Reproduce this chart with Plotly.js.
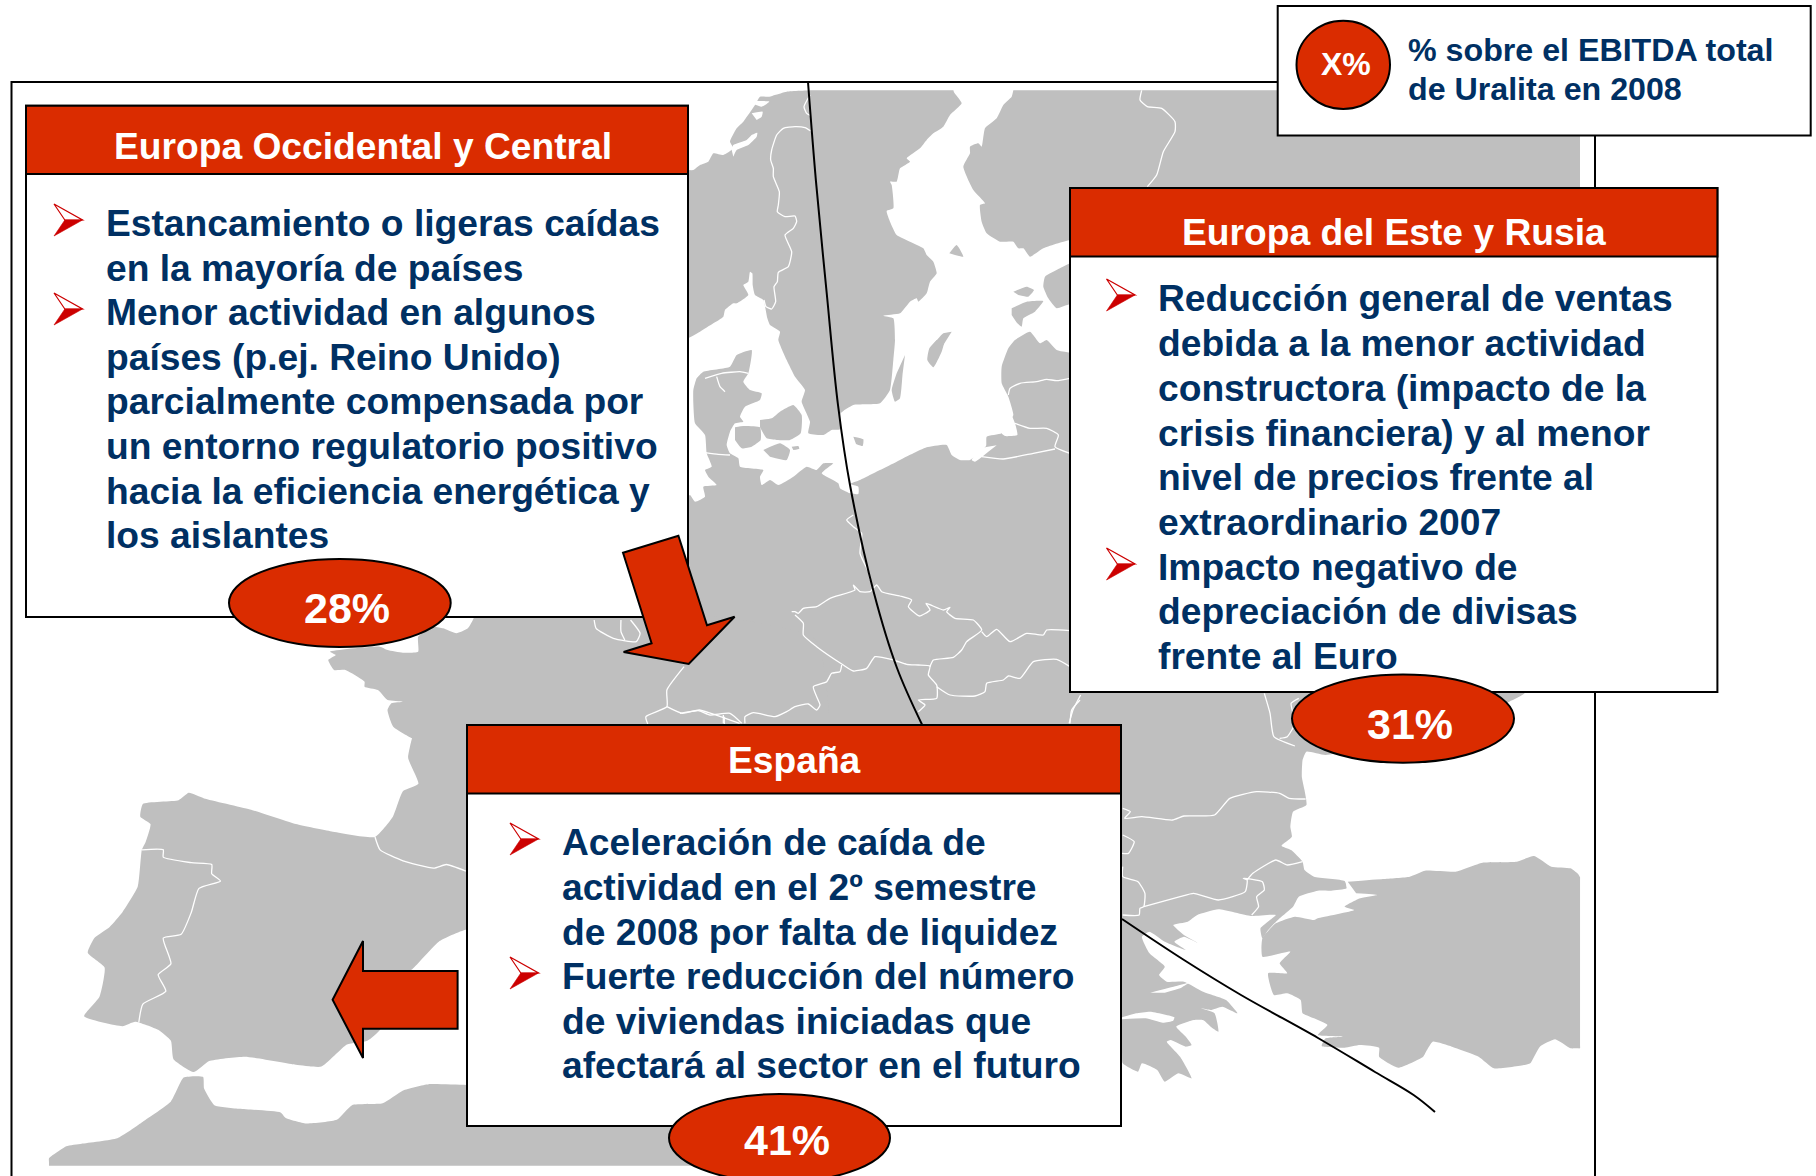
<!DOCTYPE html>
<html><head><meta charset="utf-8">
<script src="https://cdn.plot.ly/plotly-3.0.1.min.js"></script>
<style>html,body{margin:0;padding:0;background:#fff}#c{width:1816px;height:1176px}</style>
</head><body><div id="c"></div>
<script>
// ---------- text content ----------
const westTitle = "Europa Occidental y Central";
const westLines = ["Estancamiento o ligeras caídas","en la mayoría de países","Menor actividad en algunos","países (p.ej. Reino Unido)","parcialmente compensada por","un entorno regulatorio positivo","hacia la eficiencia energética y","los aislantes"];
const eastTitle = "Europa del Este y Rusia";
const eastLines = ["Reducción general de ventas","debida a la menor actividad","constructora (impacto de la","crisis financiera) y al menor","nivel de precios frente al","extraordinario 2007","Impacto negativo de","depreciación de divisas","frente al Euro"];
const spainTitle = "España";
const spainLines = ["Aceleración de caída de","actividad en el 2º semestre","de 2008 por falta de liquidez","Fuerte reducción del número","de viviendas iniciadas que","afectará al sector en el futuro"];
const shares = ["28%","31%","41%"];
const legendLines = ["% sobre el EBITDA total","de Uralita en 2008"];

// ---------- traced map outlines (each in the scale of the crop it was read from) ----------
const c7  = [680,85,3,3], c8=[680,340,3,3], c9=[680,570,3,3], c10=[1060,85,3,3];
const c3  = [1050,680,2.613,3], c2=[0,600,1.96,2.722], c6=[200,500,2.613,3];
const scaleTo = (c,p)=>p.map(([x,y])=>[c[0]+x/c[2], c[1]+y/c[3]]);

const scandiA = [[24,760],[60,740],[100,715],[130,695],[135,675],[160,655],[170,655],[205,630],[190,600],[205,590],[210,560],[217,565],[218,600],[225,630],[250,645],[262,700],[270,720],[300,740]];
const scandiB = [[295,0],[320,60],[345,110],[375,150],[365,185],[390,245],[385,280],[430,285],[455,270],[480,268],[482,220],[520,195],[600,190],[630,150],[640,60],[645,0]];
const scandiC = [[640,700],[610,692],[660,685],[690,650],[710,640],[715,650],[740,625],[750,590],[770,565],[760,530],[740,510],[730,490],[690,470],[650,450],[630,410],[620,378],[640,370],[635,300],[630,290],[650,290],[660,250],[690,230],[680,220],[720,190],[740,165],[760,145],[790,125],[810,90],[845,55],[822,22],[820,16],[812,16],[410,16],[400,16],[320,20],[285,30],[268,35],[240,35],[225,60],[190,110],[170,130],[150,170],[160,190],[130,210],[100,205],[85,230],[60,240],[40,255],[24,255]];
const finland = [[1000,16],[995,35],[970,60],[950,100],[915,130],[905,185],[895,175],[870,185],[870,205],[850,245],[880,315],[915,355],[900,360],[905,410],[920,445],[960,470],[1000,470],[1015,490],[1030,490],[1050,515],[1090,490],[1170,465],[1300,465],[1300,800],[2690,800],[2700,795],[2700,785],[2700,26],[2700,20],[2695,16],[2685,16],[1010,16]];
const estonia = [[1170,535],[1140,550],[1095,575],[1090,605],[1105,640],[1130,670],[1170,658],[1300,700],[1300,535]];
const continent = [[1170,38],[1130,30],[1100,0],[1080,10],[1050,-25],[1005,0],[985,25],[965,80],[965,130],[985,170],[1000,225],[985,250],[965,280],[920,290],[918,318],[870,360],[840,360],[815,345],[800,315],[740,322],[700,340],[650,365],[600,390],[540,420],[510,432],[535,440],[535,462],[505,458],[480,445],[475,430],[425,400],[460,370],[430,370],[410,390],[380,380],[340,410],[295,435],[270,420],[245,435],[240,410],[250,390],[180,380],[175,355],[150,340],[140,315],[150,275],[165,250],[190,245],[180,230],[195,200],[240,180],[245,160],[210,150],[190,125],[205,100],[215,30],[170,45],[150,80],[70,95],[50,115],[40,150],[40,190],[45,250],[75,285],[80,340],[95,380],[75,390],[85,410],[110,435],[70,440],[75,470],[45,485],[30,465],[24,470],[24,1200],[1400,1200],[1400,38]];
const fyn = [[165,262],[190,258],[240,262],[242,300],[215,320],[185,325],[165,300]];
const zealand = [[240,240],[275,235],[300,215],[340,195],[365,225],[362,280],[330,300],[290,300],[260,295],[240,262]];
const lolland = [[250,330],[300,310],[330,330],[320,360],[270,350]];
const moen = [[335,320],[355,318],[358,326],[340,330]];
const bornholm = [[520,290],[550,298],[548,318],[528,312]];
const oland = [[675,45],[668,100],[660,175],[645,185],[635,150],[650,100]];
const gotland = [[795,0],[785,35],[760,82],[742,60],[748,25],[770,0]];
const gotlandTop = [[815,740],[790,745],[760,780],[790,780]];
const saaremaa = [[995,670],[1040,650],[1090,648],[1065,680],[1030,700],[1025,725],[1012,715],[995,690]];
const hiiumaa = [[1000,620],[1040,605],[1062,615],[1045,635],[1015,630]];
const aland = [[808,505],[830,480],[850,515],[825,510]];
const franceCoast = [[715,340],[715,355],[700,385],[670,400],[635,385],[610,380],[570,410],[570,455],[530,458],[490,450],[470,440],[340,455],[355,465],[335,480],[350,510],[380,510],[430,545],[430,560],[465,570],[490,600],[530,605],[500,610],[490,630],[505,680],[555,715]];
const iberiaCoast = [[808,375],[800,430],[820,500],[790,520],[770,590],[735,645],[650,630],[580,610],[490,570],[400,540],[370,525],[350,545],[280,555],[275,590],[295,610],[285,660],[278,680],[270,780],[240,850],[215,890],[185,920],[172,960],[205,1000],[195,1080],[165,1133],[240,1160],[265,1148],[310,1170],[335,1200],[340,1250],[380,1285],[410,1255],[480,1243],[580,1265],[630,1270],[680,1210],[720,1200],[745,1170],[760,1100],[790,1020],[808,1005],[860,930],[915,897],[1600,897],[1600,110],[1300,30],[720,30]];
const africa = [[96,1540],[96,1530],[96,1520],[130,1487],[160,1480],[230,1465],[280,1420],[335,1365],[360,1300],[398,1298],[400,1330],[420,1375],[470,1385],[550,1395],[560,1410],[600,1425],[660,1415],[690,1375],[750,1370],[790,1335],[840,1318],[915,1320],[1400,1320],[1400,1530],[1390,1540],[1380,1540],[110,1540],[100,1540]];
const balkans = [[100,0],[1240,0],[1240,40],[1200,65],[900,180],[720,225],[670,215],[660,240],[658,290],[665,330],[670,375],[635,395],[628,440],[632,470],[605,497],[630,510],[660,545],[665,570],[690,590],[770,603],[775,625],[735,632],[700,632],[650,650],[635,680],[600,715],[570,750],[555,775],[550,745],[590,705],[525,708],[440,688],[385,705],[360,725],[322,735],[350,765],[385,788],[350,770],[325,785],[355,810],[300,785],[260,755],[240,770],[260,820],[300,860],[285,885],[305,905],[350,905],[400,935],[460,960],[490,1000],[450,980],[420,990],[395,985],[430,1000],[440,1055],[420,1040],[400,1020],[375,1020],[330,1040],[355,1070],[370,1095],[355,1100],[315,1080],[305,1085],[340,1130],[370,1195],[335,1180],[300,1205],[280,1170],[240,1150],[230,1175],[190,1150],[186,1100],[100,1100]];
const turkey = [[778,605],[870,597],[940,590],[980,572],[1060,575],[1130,548],[1220,545],[1265,528],[1310,560],[1360,565],[1380,582],[1385,592],[1385,600],[1385,1095],[1385,1105],[1375,1105],[1360,1105],[1320,1078],[1280,1100],[1255,1150],[1240,1155],[1160,1165],[1120,1130],[1050,1100],[1000,1085],[985,1110],[975,1130],[910,1163],[860,1130],[860,1103],[810,1095],[770,1103],[710,1098],[720,1075],[765,1070],[700,1065],[725,1035],[690,1015],[660,1000],[655,960],[620,940],[585,945],[570,880],[620,880],[600,850],[628,815],[555,830],[555,775],[590,730],[640,710],[690,720],[700,715],[795,690],[770,680],[810,655],[855,645],[800,640]];
const corinth = [[188,1012],[225,1000],[262,995],[325,1012],[322,1022],[295,1028],[250,1015],[188,1018]];
const euboeaGap = [[262,938],[330,918],[362,908],[340,925],[300,938]];
const fjordA = [[155,195],[160,180],[200,165],[215,150],[232,143],[230,155],[205,180],[170,195],[160,215]];
const fjordB = [[215,85],[248,80],[245,95],[230,105]];
const fjordC = [[205,45],[240,48],[268,50],[245,65],[215,55]];
const curonian = [[995,225],[965,280],[975,288],[1012,285],[1005,250]];
const vistula = [[950,316],[905,325],[875,360],[885,365],[925,335]];

const borderNoSe = [[252,645],[258,665],[275,672],[287,650],[282,605],[292,590],[295,562],[325,545],[335,500],[315,450],[340,430],[350,410],[345,393],[315,395],[292,380],[295,360],[298,320],[280,275],[280,250],[272,225],[275,195],[290,150],[310,130],[345,125],[375,128],[392,138]];
const borderNoFi = [[390,30],[372,65],[380,85],[392,92]];
const borderFiRu = [[245,16],[240,45],[262,65],[305,70],[345,110],[345,140],[310,200],[290,270],[262,305]];
const borderLvLt = [[985,165],[990,145],[1020,130],[1070,125],[1100,118],[1130,122],[1170,115]];
const borderLtKa = [[1005,250],[1050,265],[1100,265],[1135,285],[1125,320],[1170,340]];
const borderPlKa = [[905,350],[970,357],[1060,340],[1125,327]];
const borderDeDk = [[75,338],[115,343],[150,345]];
const limfjord = [[75,115],[125,100],[180,95],[205,100]];
const limfjordB = [[110,110],[120,140],[135,155]];
const borderDePlN = [[520,525],[500,540],[520,560],[545,580],[540,640],[565,695],[570,720]];
const borderDeCzN = [[335,125],[345,125],[355,130],[370,115],[410,110],[450,85],[525,60],[520,45],[540,65],[570,65],[590,45],[605,65],[660,78],[695,90],[685,110],[718,138],[750,120],[738,100],[790,120],[810,112],[800,125],[825,145],[880,150],[905,180],[860,215],[845,240],[820,262],[760,270],[750,290]];
const borderSkPl = [[905,185],[920,200],[950,178],[990,215],[1040,190],[1090,195],[1100,180],[1170,182]];
const borderCzS = [[345,135],[370,160],[370,195],[410,230],[490,285],[520,303],[560,295],[585,260],[640,270],[680,283],[715,285],[750,288],[745,315],[770,345],[770,385],[715,390],[735,405],[715,425]];
const borderHu = [[770,350],[810,375],[885,378],[915,365],[920,340],[970,330],[985,318],[1020,325],[1060,275],[1130,268],[1170,290]];
const borderAtDe = [[485,285],[480,305],[455,310],[440,335],[400,350],[410,380],[420,405],[410,420],[385,402],[345,410],[320,425],[285,440],[220,428],[195,440],[195,460]];
const borderChDe = [[0,430],[55,422],[90,435],[150,430],[185,460]];
const borderCh2 = [[130,435],[130,460]];
const borderRoE = [[1170,460],[1175,420],[1200,390]];
const borderFrDe = [[1265,500],[1220,570],[1220,620],[1165,650],[1170,672]];
const borderFrCh = [[1220,620],[1260,640],[1305,630],[1360,650],[1410,670]];
const borderCh3 = [[1370,650],[1370,672]];
const borderBe = [[1030,360],[1035,385],[1080,415],[1140,425],[1150,400],[1125,360]];
const borderNl = [[1100,360],[1100,395],[1110,420]];
const borderPyr = [[735,645],[745,680],[790,710],[850,730],[875,720],[913,738]];
const borderPt = [[278,680],[320,680],[320,700],[375,715],[415,720],[415,745],[432,765],[390,785],[375,850],[355,910],[320,920],[335,990],[310,1020],[325,1065],[280,1100],[272,1150]];
const borderMd = [[560,40],[575,100],[585,170],[640,198]];
const borderMd2 = [[650,55],[630,70],[640,130],[620,170],[600,175]];
const borderRoBg = [[190,385],[210,395],[195,415],[240,410],[320,420],[350,408],[430,405],[470,355],[540,335],[600,340],[625,355],[668,357]];
const borderRsBg = [[190,465],[220,485],[205,520],[188,520]];
const borderMk = [[190,560],[190,590],[230,605],[248,640],[245,680],[235,685],[233,705],[190,705]];
const borderBgGr = [[245,680],[340,650],[375,640],[440,660],[510,635],[515,600],[505,595],[555,605],[560,630],[540,650],[545,680],[527,705]];
const borderBgTr = [[515,600],[530,580],[590,540],[620,555],[660,545]];
const borderTop = [[80,45],[60,90],[50,130]];
const bosphorus = [[775,600],[778,625],[795,642]];

const separatorA = [[808,82],[816,181.6],[826.7,293],[838,405],[850,485],[873.7,592],[897,668],[922,724.5]];
const separatorB = [[1122,919],[1184,960],[1241,995],[1318,1038],[1375,1072],[1413.6,1095],[1435,1112]];

// ---------- colours ----------
const GREY="#BFBFBF", RED="#DA2C00", NAVY="#003063", BULLET="#CC0000";
const FONT="Liberation Sans";

// ---------- traces ----------
const poly=(pts,color)=>({type:"scatter",mode:"lines",x:pts.map(p=>p[0]),y:pts.map(p=>p[1]),fill:"toself",fillcolor:color,line:{width:0,color:color,shape:"spline",smoothing:0.45},hoverinfo:"skip",showlegend:false});
const line=(pts,color,w,spline)=>({type:"scatter",mode:"lines",x:pts.map(p=>p[0]),y:pts.map(p=>p[1]),line:{color:color,width:w,shape:"spline",smoothing:spline?1:0.5},hoverinfo:"skip",showlegend:false});

const lands=[
 [...scaleTo(c7,scandiA),...scaleTo(c8,scandiB),...scaleTo(c7,scandiC)],
 scaleTo(c7,finland),scaleTo(c7,estonia),scaleTo(c8,continent),
 scaleTo(c8,fyn),scaleTo(c8,zealand),scaleTo(c8,lolland),scaleTo(c8,moen),scaleTo(c8,bornholm),scaleTo(c8,oland),scaleTo(c8,gotland),
 scaleTo(c7,gotlandTop),scaleTo(c7,saaremaa),scaleTo(c7,hiiumaa),scaleTo(c7,aland),
 [...scaleTo(c6,franceCoast),...scaleTo(c2,iberiaCoast)],
 scaleTo(c2,africa),scaleTo(c3,balkans),scaleTo(c3,turkey)
];
const waters=[scaleTo(c3,corinth),scaleTo(c3,euboeaGap),scaleTo(c7,fjordA),scaleTo(c7,fjordB),scaleTo(c7,fjordC),scaleTo(c8,curonian),scaleTo(c8,vistula)];
const borders=[
 scaleTo(c7,borderNoSe),scaleTo(c7,borderNoFi),scaleTo(c10,borderFiRu),
 scaleTo(c8,borderLvLt),scaleTo(c8,borderLtKa),scaleTo(c8,borderPlKa),scaleTo(c8,borderDeDk),scaleTo(c8,limfjord),scaleTo(c8,limfjordB),scaleTo(c8,borderDePlN),
 scaleTo(c9,borderDeCzN),scaleTo(c9,borderSkPl),scaleTo(c9,borderCzS),scaleTo(c9,borderHu),scaleTo(c9,borderAtDe),scaleTo(c9,borderChDe),scaleTo(c9,borderCh2),scaleTo(c9,borderRoE),
 scaleTo(c6,borderFrDe),scaleTo(c6,borderFrCh),scaleTo(c6,borderCh3),scaleTo(c6,borderBe),scaleTo(c6,borderNl),
 scaleTo(c2,borderPyr),scaleTo(c2,borderPt),
 scaleTo(c3,borderMd),scaleTo(c3,borderMd2),scaleTo(c3,borderRoBg),scaleTo(c3,borderRsBg),scaleTo(c3,borderMk),scaleTo(c3,borderBgGr),scaleTo(c3,borderBgTr),scaleTo(c3,borderTop),scaleTo(c3,bosphorus)
];
const traces=[
 ...lands.map(p=>poly(p,GREY)),
 ...waters.map(p=>poly(p,"#FFFFFF")),
 ...borders.map(p=>line(p,"#FFFFFF",1.3,false)),
 line(separatorA,"#000000",2,true),
 line(separatorB,"#000000",2,true)
];

// ---------- shapes ----------
const rect=(x0,y0,x1,y1,fill)=>({type:"rect",x0,y0,x1,y1,fillcolor:fill,line:{color:"#000",width:2}});
const oval=(x0,y0,x1,y1)=>({type:"circle",x0,y0,x1,y1,fillcolor:RED,line:{color:"#000",width:2}});
const pathOf=(pts,fill,stroke,w)=>({type:"path",path:"M"+pts.map(p=>p[0]+","+p[1]).join("L")+"Z",fillcolor:fill,line:{color:stroke,width:w}});
const bullet=(x,y)=>{const w=28.5,h=32;return [
 pathOf([[x,y],[x+w,y+h/2],[x+w*0.38,y+h/2]],"#FFFFFF",BULLET,1.2),
 pathOf([[x,y+h],[x+w,y+h/2],[x+w*0.38,y+h/2]],BULLET,BULLET,0.6)];};

const arrowDiag=[[623,552.7],[678.4,535.7],[707,625.3],[734.6,616.7],[688.7,664],[623.6,652],[651.6,643.3]];
const arrowLeft=[[332.6,999.7],[363,941],[363,971],[457.6,971],[457.6,1028.7],[363,1028.7],[363,1058]];

const shapes=[
 {type:"rect",x0:11.5,y0:82,x1:1595,y1:1200,fillcolor:"rgba(0,0,0,0)",line:{color:"#000",width:2}},
 rect(26,105.7,688,617,"#FFFFFF"), rect(26,105.7,688,174,RED),
 rect(1070,188,1717.4,692,"#FFFFFF"), rect(1070,188,1717.4,256.6,RED),
 rect(467,725,1121,1126,"#FFFFFF"), rect(467,725,1121,793.6,RED),
 rect(1277.7,6,1810.7,135.5,"#FFFFFF"),
 pathOf(arrowDiag,RED,"#000",2), pathOf(arrowLeft,RED,"#000",2),
 oval(229,559,450.7,647), oval(1292,674.5,1514,762.7), oval(669,1094,890,1182),
 oval(1296.5,20.7,1390,109),
 ...bullet(54,204),...bullet(54,293),
 ...bullet(1106.5,279),...bullet(1106.5,548),
 ...bullet(510,823),...bullet(510,957)
];

// ---------- text ----------
const txt=(s,x,base,size,color,anchor)=>({text:s,x,y:base-0.35*size,xref:"x",yref:"y",xanchor:anchor,yanchor:"middle",showarrow:false,font:{family:FONT,size,color,weight:700}});
const block=(lines,x,first,step)=>lines.map((s,i)=>txt(s,x,first+i*step,37.2,NAVY,"left"));
const annotations=[
 txt(westTitle,362.7,159,37.2,"#FFF","center"),
 txt(eastTitle,1394,245,37.2,"#FFF","center"),
 txt(spainTitle,794,773.5,37.2,"#FFF","center"),
 ...block(westLines,104,236,44.6),
 ...block(eastLines,1155.5,311.5,44.7),
 ...block(spainLines,559.5,855.5,44.6),
 txt(shares[0],346.5,623,43,"#FFF","center"),
 txt(shares[1],1410,739.5,43,"#FFF","center"),
 txt(shares[2],786.5,1155,43,"#FFF","center"),
 txt("X%",1345.5,75,32,"#FFF","center"),
 txt(legendLines[0],1406,61,32.2,NAVY,"left"),
 txt(legendLines[1],1406,100,32.2,NAVY,"left")
];

Plotly.newPlot("c",traces,{
 width:1816,height:1176,margin:{l:0,r:0,t:0,b:0},
 paper_bgcolor:"#fff",plot_bgcolor:"#fff",showlegend:false,
 xaxis:{range:[0,1816],visible:false,fixedrange:true},
 yaxis:{range:[1176,0],visible:false,fixedrange:true},
 shapes,annotations
},{displayModeBar:false,staticPlot:true});
</script></body></html>
